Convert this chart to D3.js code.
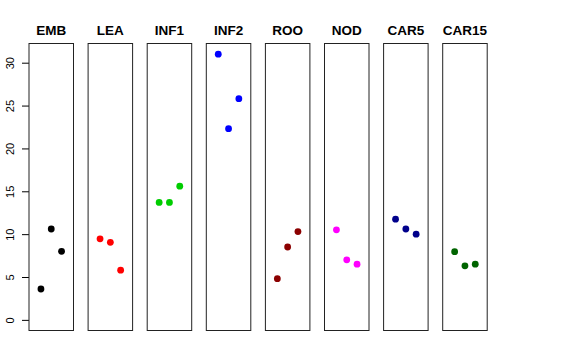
<!DOCTYPE html>
<html>
<head>
<meta charset="utf-8">
<script src="https://cdn.jsdelivr.net/npm/d3@7"></script>
<style>
  body { margin: 0; background: #fff; }
  text { font-family: "Liberation Sans", Arial, sans-serif; }
</style>
</head>
<body>
<svg width="576" height="360"></svg>
<script>
// one column of points per tissue
var tissues = ["EMB", "LEA", "INF1", "INF2", "ROO", "NOD", "CAR5", "CAR15"];
var colors = ["#000000", "#FF0000", "#00CD00", "#0000FF", "#8B0000", "#FF00FF", "#00008B", "#006400"];
var values = [
  [3.6, 10.6, 8.0],
  [9.45, 9.05, 5.8],
  [13.7, 13.7, 15.6],
  [31.0, 22.3, 25.8],
  [4.8, 8.5, 10.3],
  [10.5, 7.0, 6.5],
  [11.75, 10.6, 10.0],
  [7.95, 6.3, 6.5]
];
var yTicks = [0, 5, 10, 15, 20, 25, 30];

var svg = d3.select("svg");

var plotTop = 43.5, plotBottom = 330.5, plotLeft = 29, panelW = 44.5, step = 59.1;

var y = d3.scaleLinear().domain([-1.24, 32.24]).range([plotBottom, plotTop]);

// x within a panel: points at 1,2,3 on a 0..4 axis (R-style 4% pad)
var x = d3.scaleLinear().domain([-0.16, 4.16]).range([0, panelW]);

var yAxis = svg.append("g")
    .attr("transform", "translate(" + plotLeft + ",0)")
    .call(d3.axisLeft(y).tickValues(yTicks).tickSize(7));
yAxis.select(".domain").remove();
yAxis.selectAll("line").attr("stroke", "#000");
yAxis.selectAll(".tick text")
    .attr("font-size", 11)
    .attr("fill", "#000")
    .attr("x", 0).attr("y", 0).attr("dy", "0.35em")
    .attr("text-anchor", "middle")
    .attr("transform", "translate(-19,0) rotate(-90)");

var panel = svg.selectAll("g.panel")
    .data(tissues)
    .enter()
    .append("g")
    .attr("class", "panel")
    .attr("transform", function(d, i) { return "translate(" + (plotLeft + i * step) + ",0)"; });

panel.append("rect")
    .attr("x", 0)
    .attr("y", plotTop)
    .attr("width", panelW)
    .attr("height", plotBottom - plotTop)
    .attr("fill", "none")
    .attr("stroke", "#222")
    .attr("stroke-width", 1);

panel.append("text")
    .attr("x", panelW / 2)
    .attr("y", 35)
    .attr("text-anchor", "middle")
    .attr("font-size", 13.5)
    .attr("font-weight", "bold")
    .text(function(d) { return d; });

panel.selectAll("circle")
    .data(function(d, i) { return values[i].map(function(v, j) { return { v: v, j: j + 1, c: colors[i] }; }); })
    .enter()
    .append("circle")
    .attr("cx", function(d) { return x(d.j); })
    .attr("cy", function(d) { return y(d.v); })
    .attr("r", 3.4)
    .attr("fill", function(d) { return d.c; });
</script>
</body>
</html>
